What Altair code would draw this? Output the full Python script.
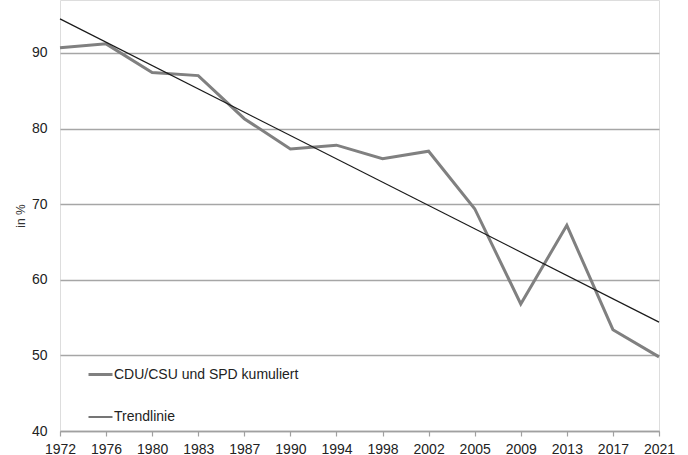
import altair as alt
import pandas as pd

years = ["1972", "1976", "1980", "1983", "1987", "1990", "1994", "1998",
         "2002", "2005", "2009", "2013", "2017", "2021"]
kumuliert = [90.7, 91.2, 87.4, 87.0, 81.3, 77.3, 77.8, 76.0,
             77.0, 69.4, 56.8, 67.2, 53.4, 49.8]
trend_years = ["1972", "2021"]
trend_values = [94.5, 54.4]

s1 = "CDU/CSU und SPD kumuliert"
s2 = "Trendlinie"

rows = [{"year": y, "value": v, "series": s1} for y, v in zip(years, kumuliert)]
rows += [{"year": y, "value": v, "series": s2} for y, v in zip(trend_years, trend_values)]
df = pd.DataFrame(rows)

FONT = "Liberation Sans"

chart = alt.Chart(df).mark_line().encode(
    x=alt.X("year:O", sort=years,
            scale=alt.Scale(type="point", padding=0, domain=years),
            axis=alt.Axis(title=None, labelAngle=0, labelFontSize=14,
                          labelColor="#222222", labelFont=FONT,
                          domainColor="#a0a0a0", domainWidth=1.5,
                          tickColor="#a0a0a0", tickWidth=1.2, tickSize=5,
                          labelPadding=6, grid=False)),
    y=alt.Y("value:Q",
            scale=alt.Scale(domain=[40, 97], nice=False, zero=False),
            axis=alt.Axis(title="in %", values=[40, 50, 60, 70, 80, 90],
                          labelFontSize=14, labelColor="#222222", labelFont=FONT,
                          labelPadding=13, ticks=False, domain=False,
                          grid=True, gridColor="#a6a6a6", gridWidth=1.5,
                          titleFontSize=12, titleFont=FONT, titleColor="#333333",
                          titleFontWeight="normal", titlePadding=4)),
    color=alt.Color("series:N",
                    scale=alt.Scale(domain=[s1, s2], range=["#808080", "#1a1a1a"]),
                    legend=alt.Legend(title=None, orient="none", legendX=27, legendY=361,
                                      symbolType="stroke", symbolSize=576,
                                      labelFontSize=14, labelFont=FONT,
                                      labelColor="#222222", labelOffset=0,
                                      labelLimit=400,
                                      rowPadding=22, padding=0)),
    strokeWidth=alt.StrokeWidth("series:N",
                                scale=alt.Scale(domain=[s1, s2], range=[3, 1.2]),
                                legend=None),
).properties(
    width=599, height=431,
    padding={"left": 60, "top": 0, "right": 29, "bottom": 24},
    autosize=alt.AutoSizeParams(type="none"),
).configure_view(stroke=None).configure(font=FONT)

chart.save("out.html", embed_options={"renderer": "svg", "actions": False})
